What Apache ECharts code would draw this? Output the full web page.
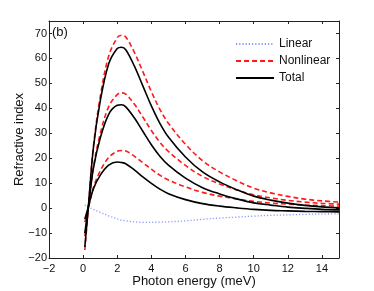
<!DOCTYPE html>
<html>
<head>
<meta charset="utf-8">
<script src="https://cdn.jsdelivr.net/npm/echarts@6/dist/echarts.min.js"></script>
<style>
html,body{margin:0;padding:0;background:#fff;}
#chart{width:374px;height:291px;}
</style>
</head>
<body>
<div id="chart"></div>
<script>
// Photon energy (meV)
var energy = [0.1, 0.3, 0.6, 1.0, 1.5, 2.0, 2.25, 2.5, 3.0, 3.5, 4.0, 4.5, 5.0, 6.0, 7.0, 8.0, 9.0, 10.0, 11.0, 12.0, 13.0, 14.0, 15.0];
// Linear refractive index change
var linear = [1.2, 0.5, -0.5, -1.7, -3.1, -4.3, -4.8, -5.1, -5.5, -5.7, -5.7, -5.6, -5.5, -5.1, -4.5, -4.0, -3.6, -3.2, -2.9, -2.7, -2.5, -2.4, -2.3];
// Nonlinear (three intensities)
var nonlinear1 = [-5.6, -0.2, 8.2, 14.8, 20.3, 22.8, 23.1, 22.9, 20.8, 18.2, 15.6, 13.2, 11.3, 8.5, 6.3, 4.8, 3.7, 2.7, 2.0, 1.6, 1.2, 1.0, 0.8];
var nonlinear2 = [-11.2, -0.3, 16.3, 29.7, 40.7, 45.5, 46.2, 45.7, 41.7, 36.5, 31.1, 26.4, 22.7, 17.1, 12.7, 9.7, 7.3, 5.3, 4.1, 3.1, 2.4, 1.9, 1.6];
var nonlinear3 = [-16.8, -0.5, 24.5, 44.5, 61.0, 68.3, 69.3, 68.6, 62.5, 54.7, 46.7, 39.6, 34.0, 25.6, 19.0, 14.5, 11.0, 8.0, 6.1, 4.7, 3.6, 2.9, 2.4];
// Total (three intensities)
var total1 = [-4.4, 0.3, 7.7, 13.1, 17.2, 18.5, 18.3, 17.8, 15.3, 12.5, 9.9, 7.6, 5.8, 3.4, 1.8, 0.8, 0.1, -0.5, -0.9, -1.1, -1.3, -1.4, -1.5];
var total2 = [-10.0, 0.2, 15.8, 28.0, 37.6, 41.2, 41.4, 40.6, 36.2, 30.8, 25.4, 20.8, 17.2, 12.0, 8.2, 5.7, 3.7, 2.1, 1.2, 0.4, -0.1, -0.5, -0.7];
var total3 = [-15.6, 0.0, 24.0, 42.8, 57.9, 64.0, 64.5, 63.5, 57.0, 49.0, 41.0, 34.0, 28.5, 20.5, 14.5, 10.5, 7.4, 4.8, 3.2, 2.0, 1.1, 0.5, 0.1];
var legendNames = ['Linear', 'Nonlinear', 'Total'];

function pairs(ys){ return energy.map(function(x,i){ return [x, ys[i]]; }); }
var FONT = '"Liberation Sans", Arial, Helvetica, sans-serif';
function fmtX(v){ if (v === 15) return ''; return String(v).replace('-', '\u2212'); }
function fmtY(v){ if (v === 75) return ''; return String(v).replace('-', '\u2212'); }

var redStyle = {color:'#ff1a1a', width:1.6, type:[5,3]};
var blackStyle = {color:'#000', width:1.6, type:'solid'};
var blueStyle = {color:'#8a96ff', width:1.3, type:[1.2,2]};

function mk(name, ys, style, z){
  return {name:name, type:'line', data:pairs(ys), smooth:0.35, symbol:'none', showSymbol:false,
          lineStyle:style, itemStyle:{color:style.color}, z:z, xAxisIndex:0, yAxisIndex:0, animation:false};
}

var chart = echarts.init(document.getElementById('chart'), null, {renderer:'canvas'});
chart.setOption({
  animation:false,
  backgroundColor:'#fff',
  grid:{left:49, right:35, top:21, bottom:33, containLabel:false, outerBoundsMode:'none'},
  legend:{
    data:legendNames, orient:'vertical', left:235, top:37, padding:0,
    itemWidth:38, itemHeight:14, itemGap:3,
    itemStyle:{opacity:0},
    textStyle:{fontFamily:FONT, fontSize:12, color:'#111', lineHeight:14}
  },
  graphic:[{type:'text', left:52, top:26, style:{text:'(b)', font:'13px '+FONT, fill:'#111'}}],
  xAxis:[{
    type:'value', min:-2, max:15, interval:2, position:'bottom',
    name:'Photon energy (meV)', nameLocation:'middle', nameGap:17, nameMoveOverlap:false,
    nameTextStyle:{fontFamily:FONT, fontSize:13, color:'#111'},
    axisLine:{show:true, onZero:false, lineStyle:{color:'#222', width:1}},
    axisTick:{show:true, inside:true, length:3, lineStyle:{color:'#222'}},
    axisLabel:{fontFamily:FONT, fontSize:11, color:'#111', margin:5, formatter:fmtX},
    splitLine:{show:false}
  },{
    type:'value', min:-2, max:15, interval:2, position:'top',
    axisLine:{show:true, onZero:false, lineStyle:{color:'#222', width:1}},
    axisTick:{show:true, inside:true, length:3, lineStyle:{color:'#222'}},
    axisLabel:{show:false}, splitLine:{show:false}
  }],
  yAxis:[{
    type:'value', min:-20, max:75, interval:10, position:'left',
    name:'Refractive index', nameLocation:'middle', nameGap:23, nameMoveOverlap:false,
    nameTextStyle:{fontFamily:FONT, fontSize:13, color:'#111'},
    axisLine:{show:true, onZero:false, lineStyle:{color:'#222', width:1}},
    axisTick:{show:true, inside:true, length:3, lineStyle:{color:'#222'}},
    axisLabel:{fontFamily:FONT, fontSize:11, color:'#111', margin:2, formatter:fmtY},
    splitLine:{show:false}
  },{
    type:'value', min:-20, max:75, interval:10, position:'right',
    axisLine:{show:true, onZero:false, lineStyle:{color:'#222', width:1}},
    axisTick:{show:true, inside:true, length:3, lineStyle:{color:'#222'}},
    axisLabel:{show:false}, splitLine:{show:false}
  }],
  series:[
    mk('Linear', linear, blueStyle, 2),
    mk('Nonlinear', nonlinear1, redStyle, 3),
    mk('Nonlinear', nonlinear2, redStyle, 3),
    mk('Nonlinear', nonlinear3, redStyle, 3),
    mk('Total', total1, blackStyle, 4),
    mk('Total', total2, blackStyle, 4),
    mk('Total', total3, blackStyle, 4)
  ]
});
</script>
</body>
</html>
